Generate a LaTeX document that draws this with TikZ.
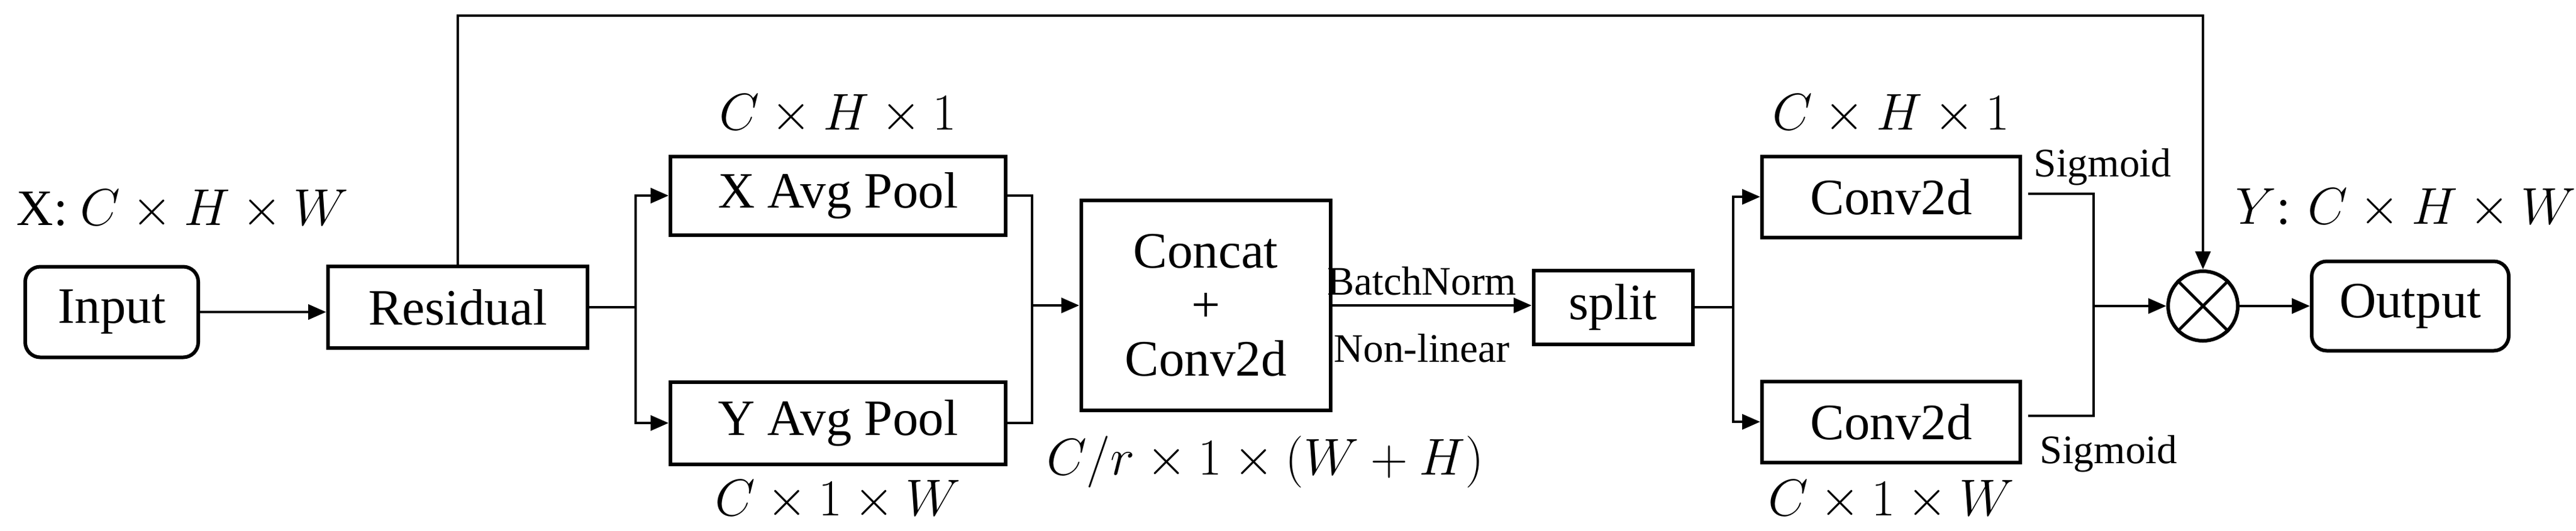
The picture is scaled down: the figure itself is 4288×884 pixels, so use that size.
\documentclass[tikz,border=0pt]{standalone}
\usepackage{fontspec}
\setmainfont{Liberation Serif}
\usetikzlibrary{arrows.meta}
\begin{document}
\begin{tikzpicture}[x=0.2pt,y=-0.2pt,
  box/.style={draw,line width=1.2pt,inner sep=0pt,font=\fontsize{17}{20}\selectfont},
  rbox/.style={box,rounded corners=5pt},
  lab/.style={font=\fontsize{17}{20}\selectfont},
  sm/.style={font=\fontsize{13.5}{16}\selectfont,inner sep=1pt},
  ln/.style={line width=0.9pt},
  ar/.style={ln,-{Triangle[length=6pt,width=5pt]}}]
\useasboundingbox (0,0) rectangle (4288,884);
\node[rbox,minimum width=288*0.2pt,minimum height=151*0.2pt] (in) at (186,520) {Input};
\node[box,minimum width=432*0.2pt,minimum height=136*0.2pt] (res) at (762,512) {Residual};
\node[box,minimum width=558*0.2pt,minimum height=131*0.2pt] (xp) at (1395,326) {X Avg Pool};
\node[box,minimum width=558*0.2pt,minimum height=137*0.2pt] (yp) at (1395,705) {Y Avg Pool};
\node[box,minimum width=415*0.2pt,minimum height=350*0.2pt,align=center] (cc) at (2007,509) {Concat\\[-2pt]+\\[-2pt]Conv2d};
\node[box,minimum width=265*0.2pt,minimum height=123*0.2pt] (sp) at (2685,512) {split};
\node[box,minimum width=430*0.2pt,minimum height=135*0.2pt] (c1) at (3148,328) {Conv2d};
\node[box,minimum width=430*0.2pt,minimum height=135*0.2pt] (c2) at (3148,703) {Conv2d};
\node[draw,circle,line width=1.2pt,minimum size=116*0.2pt,inner sep=0pt] (m) at (3667,510) {};
\draw[line width=1pt] (m.45)--(m.225) (m.135)--(m.315);
\node[rbox,minimum width=328*0.2pt,minimum height=149*0.2pt] (out) at (4012,510) {Output};
% labels
\node[lab,anchor=west] (lx) at (10,350) {X: $C\times H\times W$};
\node[lab] (l1) at (1395,191) {$C\times H\times 1$};
\node[lab] (l2) at (1395,834) {$C\times 1\times W$};
\node[lab] (l3) at (2106,770) {$C/r\times 1\times (W+H)$};
\node[lab] (l4) at (3148,191) {$C\times H\times 1$};
\node[lab] (l5) at (3148,834) {$C\times 1\times W$};
\node[lab] (ly) at (4005,348) {$Y$: $C\times H\times W$};
\node[sm] (s1) at (3500,278) {Sigmoid};
\node[sm] (s2) at (3510,756) {Sigmoid};
% connectors
\coordinate (top) at (762,26);
\draw[ar] (in.east) -- (res.west |- in.east);
\draw[ar] (res.north) -- (top) -| (m.north);
\coordinate (b1) at (1058,512);
\draw[ln] (res.east) -- (b1);
\draw[ar] (b1) |- (xp.west);
\draw[ar] (b1) |- (yp.west);
\coordinate (b2) at (1718,509);
\draw[ln] (xp.east) -| (b2);
\draw[ln] (yp.east) -| (b2);
\draw[ar] (b2) -- (cc.west);
\draw[ar] (cc.east) -- (sp.west |- cc.east) node[sm,pos=0.45,above=2pt] (bn) {BatchNorm} node[sm,pos=0.45,below=8pt] (nl) {Non-linear};
\coordinate (b3) at (2885,512);
\draw[ln] (sp.east) -- (b3);
\draw[ar] (b3) |- (c1.west);
\draw[ar] (b3) |- (c2.west);
\coordinate (b4) at (3485,510);
\draw[ln] (c1.east) ++(10,-5) -| (b4);
\draw[ln] (c2.east) ++(10,-10) -| (b4);
\draw[ar] (b4) -- (m.west);
\draw[ar] (m.east) -- (out.west);
\end{tikzpicture}
\end{document}
